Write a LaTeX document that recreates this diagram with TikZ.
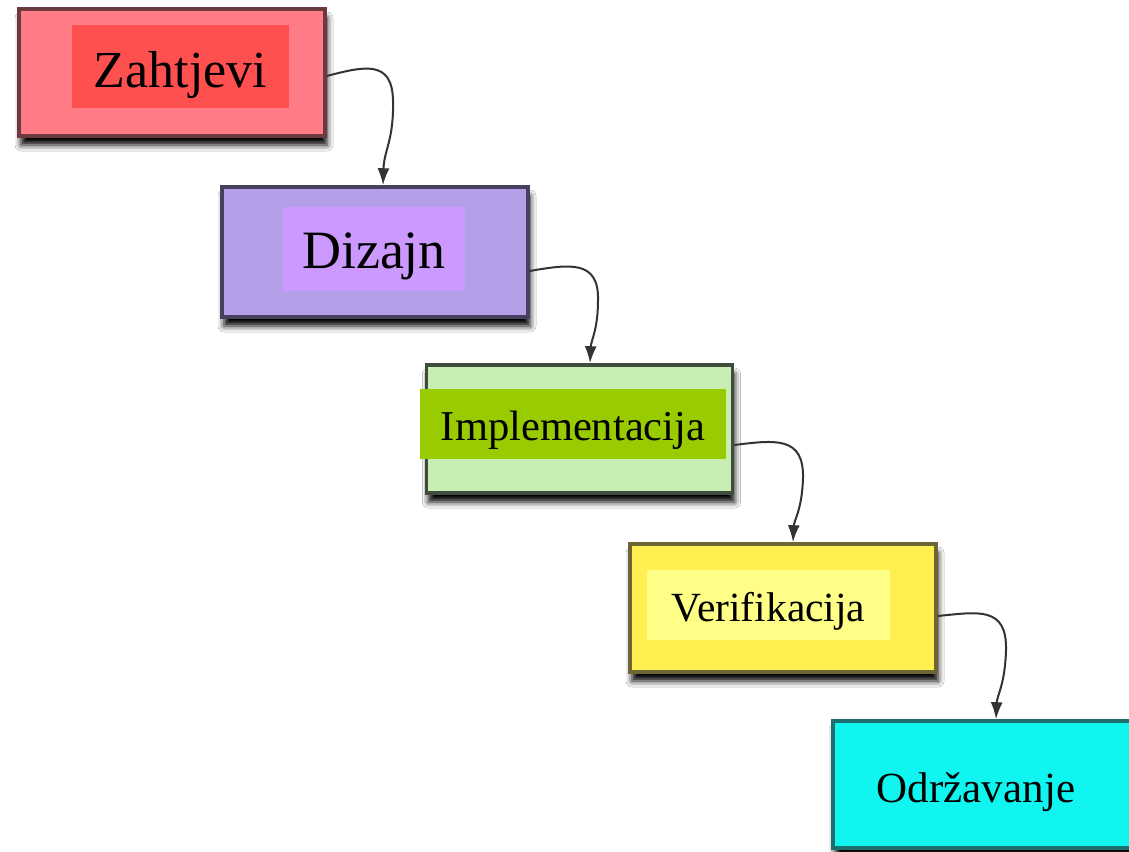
\documentclass[tikz,border=0pt]{standalone}
\usepackage{fontspec}
\setmainfont{Liberation Serif}
\usetikzlibrary{arrows.meta,shadows.blur,calc}
\definecolor{zout}{HTML}{FF7B86}\definecolor{zin}{HTML}{FF5050}\definecolor{zbd}{HTML}{6B3A3E}
\definecolor{dout}{HTML}{B3A0E8}\definecolor{din}{HTML}{CC99FF}\definecolor{dbd}{HTML}{46405E}
\definecolor{iout}{HTML}{C8EEB4}\definecolor{iin}{HTML}{99CC00}\definecolor{ibd}{HTML}{3F4D3F}
\definecolor{vout}{HTML}{FFEF50}\definecolor{vin}{HTML}{FFFF88}\definecolor{vbd}{HTML}{6E6535}
\definecolor{oout}{HTML}{10F5F0}\definecolor{obd}{HTML}{1D6E6E}
\definecolor{arrc}{HTML}{333333}
\tikzset{
  x=1pt,y=1pt,
  stagebox/.style={draw, line width=3.5pt, rectangle, inner sep=0pt, minimum width=306pt,
    blur shadow={shadow xshift=2pt, shadow yshift=-9pt, shadow blur radius=6pt, shadow opacity=100}},
  labelbox/.style={rectangle, inner sep=0pt, text=black, text depth=0pt},
  arr/.style={draw=arrc, line width=2pt, -{Latex[length=17pt,width=12pt]}},
}
\begin{document}
\begin{tikzpicture}
\useasboundingbox (0,0) rectangle (1129,-851);
\clip (0,0) rectangle (1129,-851);
\fill[white] (0,0) rectangle (1129,-851);
% outer boxes
\node[stagebox, draw=zbd, fill=zout, minimum height=127pt] (z) at (172,-72.5) {};
\node[stagebox, draw=dbd, fill=dout, minimum height=130pt] (d) at (375,-252) {};
\node[stagebox, draw=ibd, fill=iout, minimum height=128pt] (i) at (579.5,-429) {};
\node[stagebox, draw=vbd, fill=vout, minimum height=128pt] (v) at (783,-608) {};
\node[stagebox, draw=obd, fill=oout, minimum height=127pt] (o) at (986,-784.5) {};
% labels
\node[labelbox, fill=zin, minimum width=217pt, minimum height=83pt, text height=41pt, font=\fontsize{52}{60}\selectfont] (zl) at (180.5,-66.5) {Zahtjevi};
\node[labelbox, fill=din, minimum width=182pt, minimum height=84pt, text height=38pt, font=\fontsize{54}{62}\selectfont] (dl) at (374,-249) {Dizajn};
\node[labelbox, fill=iin, minimum width=306pt, minimum height=70pt, text height=32pt, font=\fontsize{42.5}{50}\selectfont] (il) at (573,-424) {Implementacija};
\node[labelbox, fill=vin, minimum width=243pt, minimum height=70pt, text height=32pt, font=\fontsize{41.5}{50}\selectfont] (vl) at (768.5,-605) {Verifikacija};
\node[labelbox, text height=28pt, font=\fontsize{43}{50}\selectfont] (ol) at (976,-788) {Održavanje};
% connectors
\draw[arr] ([yshift=-3.5pt]z.east) .. controls (365,-66) and (392,-60) .. (393,-100)
  .. controls (394,-140) and (384,-150) .. ([xshift=8pt]d.north);
\draw[arr] ([yshift=-19pt]d.east) .. controls (570,-264) and (599,-260) .. (598,-300)
  .. controls (598,-330) and (591,-340) .. ([xshift=10.5pt]i.north);
\draw[arr] ([yshift=-16pt]i.east) .. controls (775,-440) and (804,-436) .. (803,-478)
  .. controls (802,-510) and (794,-520) .. ([xshift=10pt]v.north);
\draw[arr] ([yshift=-8pt]v.east) .. controls (978,-612) and (1007,-606) .. (1006,-650)
  .. controls (1005,-685) and (997,-695) .. ([xshift=10pt]o.north);
\end{tikzpicture}
\end{document}
